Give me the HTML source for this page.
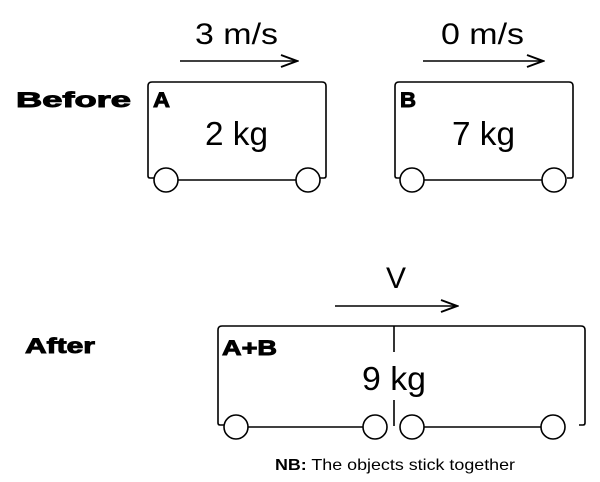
<!DOCTYPE html>
<html><head><style>body{margin:0;background:#fff}svg{display:block}</style></head><body>
<svg width="600" height="482" viewBox="0 0 600 482" xmlns="http://www.w3.org/2000/svg" font-family="Liberation Sans, sans-serif">
<defs><marker id="ah" markerWidth="20" markerHeight="14" refX="18" refY="7" orient="auto" markerUnits="userSpaceOnUse"><path d="M2,1 L18,7 L2,13" fill="none" stroke="#000" stroke-width="2"/></marker></defs>
<g fill="none" stroke="#000" stroke-width="1.6">
<path d="M154,178 L150,178 Q148,178 148,176 L148,86 Q148,82 152,82 L322,82 Q326,82 326,86 L326,176 Q326,178 324,178 L320,178"/>
<line x1="178" y1="180" x2="296" y2="180"/>
<circle cx="166" cy="180" r="12" fill="#fff"/><circle cx="308" cy="180" r="12" fill="#fff"/>
<path d="M401,178 L397,178 Q395,178 395,176 L395,86 Q395,82 399,82 L569,82 Q573,82 573,86 L573,176 Q573,178 571,178 L567,178"/>
<line x1="424" y1="180" x2="542" y2="180"/>
<circle cx="412" cy="180" r="12" fill="#fff"/><circle cx="554" cy="180" r="12" fill="#fff"/>
<path d="M224,425 L220,425 Q218,425 218,423 L218,330 Q218,326 222,326 L581,326 Q585,326 585,330 L585,423 Q585,425 583,425 L579,425"/>
<line x1="394" y1="326" x2="394" y2="352"/><line x1="394" y1="400" x2="394" y2="426"/>
<line x1="248" y1="427" x2="363" y2="427"/><line x1="424" y1="427" x2="541" y2="427"/>
<circle cx="236" cy="427" r="12" fill="#fff"/><circle cx="375" cy="427" r="12" fill="#fff"/>
<circle cx="412" cy="427" r="12" fill="#fff"/><circle cx="553" cy="427" r="12" fill="#fff"/>
<line x1="180" y1="61" x2="297" y2="61" marker-end="url(#ah)"/>
<line x1="423" y1="61" x2="543" y2="61" marker-end="url(#ah)"/>
<line x1="335" y1="306" x2="457" y2="306" marker-end="url(#ah)"/>
</g>
<g fill="#000">
<text x="195" y="44" font-size="30" textLength="83" lengthAdjust="spacingAndGlyphs">3 m/s</text>
<text x="441" y="44" font-size="30" textLength="83" lengthAdjust="spacingAndGlyphs">0 m/s</text>
<text x="396" y="288" font-size="30" text-anchor="middle">V</text>
<text x="205" y="145" font-size="33" textLength="63" lengthAdjust="spacingAndGlyphs">2 kg</text>
<text x="452" y="145" font-size="33" textLength="63" lengthAdjust="spacingAndGlyphs">7 kg</text>
<text x="362" y="390" font-size="33" textLength="64" lengthAdjust="spacingAndGlyphs">9 kg</text>
<g font-weight="bold" stroke="#000" stroke-width="0.9">
<text x="16" y="107" font-size="21" textLength="115" lengthAdjust="spacingAndGlyphs">Before</text>
<text x="25" y="353" font-size="21" textLength="70" lengthAdjust="spacingAndGlyphs">After</text>
<text x="153" y="107" font-size="21" textLength="17" lengthAdjust="spacingAndGlyphs">A</text>
<text x="400" y="107" font-size="21" textLength="16" lengthAdjust="spacingAndGlyphs">B</text>
<text x="222" y="355" font-size="21" textLength="55" lengthAdjust="spacingAndGlyphs">A+B</text>
</g>
<text x="275" y="470" font-size="16" textLength="240" lengthAdjust="spacingAndGlyphs"><tspan font-weight="bold">NB:</tspan> The objects stick together</text>
</g>
</svg>
</body></html>
